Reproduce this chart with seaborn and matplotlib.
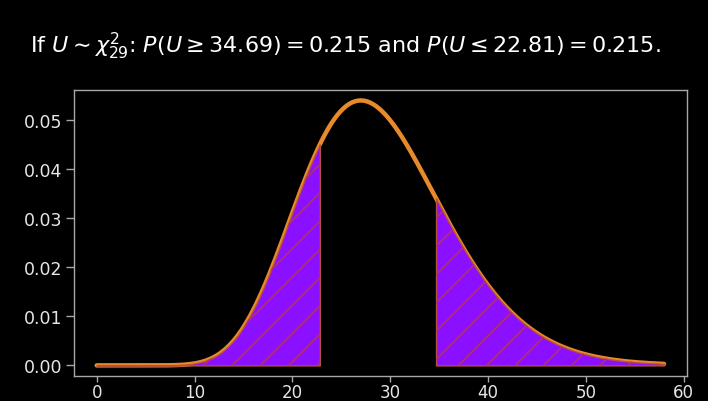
import math
import numpy as np
import pandas as pd
import seaborn as sns
import matplotlib
matplotlib.use("Agg")
import matplotlib.pyplot as plt
from matplotlib.collections import LineCollection
from matplotlib.transforms import IdentityTransform

# Distribution and the two tail cut-offs
dof = 29
upper_cut = 34.69
lower_cut = 22.81
tail_prob = 0.215
x_range = [0, 58]
x_ticks = [0, 10, 20, 30, 40, 50, 60]
y_ticks = [0.00, 0.01, 0.02, 0.03, 0.04, 0.05]


def chisq_pdf(x, k):
    x = np.asarray(x, dtype=float)
    out = np.zeros_like(x)
    pos = x > 0
    logc = -(k / 2) * math.log(2) - math.lgamma(k / 2)
    out[pos] = np.exp(logc + (k / 2 - 1) * np.log(x[pos]) - x[pos] / 2)
    return out


xs = np.linspace(x_range[0], x_range[1], 600)
curve = pd.DataFrame({"u": xs, "density": chisq_pdf(xs, dof)})

sns.set_style("dark")
plt.rcParams["mathtext.fontset"] = "dejavusans"
plt.rcParams["font.family"] = ["DejaVu Sans"]

BG = "black"
LINE = "#E8892B"
FILL = "#8A10FF"
EDGE = "#B4523A"
HATCH = "#B02E72"
FG = "#E6E6E6"
SPINE = "#A8A8A8"

fig = plt.figure(figsize=(7.08, 4.02), dpi=100, facecolor=BG)
ax = fig.add_axes([0.1045, 0.0622, 0.8655, 0.7118])
ax.set_facecolor(BG)

sns.lineplot(data=curve, x="u", y="density", ax=ax, color=LINE, lw=3.2,
             solid_capstyle="round", zorder=2)

ymax = curve["density"].max()
span_x = x_range[1] - x_range[0]
ax.set_xlim(x_range[0] - 0.04 * span_x, x_range[1] + 0.04 * span_x)
ax.set_ylim(-0.04 * ymax, ymax * 1.04)

lower = curve[curve["u"] <= lower_cut]
upper = curve[curve["u"] >= upper_cut]
lx = np.append(lower["u"].to_numpy(), lower_cut)
ly = np.append(lower["density"].to_numpy(), chisq_pdf([lower_cut], dof)[0])
ux = np.insert(upper["u"].to_numpy(), 0, upper_cut)
uy = np.insert(upper["density"].to_numpy(), 0, chisq_pdf([upper_cut], dof)[0])

fills = []
for fx, fy in [(lx, ly), (ux, uy)]:
    poly = ax.fill_between(fx, 0, fy, facecolor=FILL, edgecolor=EDGE,
                           lw=1.0, zorder=3)
    fills.append(poly)

# Sparse 45-degree shading lines, clipped to each tail region
fig.canvas.draw()
bb = ax.get_window_extent()
spacing = 28.3
segs = []
c0 = bb.x0 - bb.height - 400
c = c0 + 13
while c < bb.x1 + 10:
    segs.append([(c, bb.y0), (c + bb.height, bb.y1)])
    c += spacing
for poly in fills:
    lc = LineCollection(segs, colors=HATCH, linewidths=1.3,
                        transform=IdentityTransform(), zorder=4)
    ax.add_collection(lc, autolim=False)
    lc.set_clip_path(poly.get_paths()[0], poly.get_transform())

ax.set_xticks(x_ticks)
ax.set_yticks(y_ticks)
ax.set_yticklabels([f"{v:.2f}" for v in y_ticks])
ax.set_xlabel("")
ax.set_ylabel("")
ax.grid(False)
ax.tick_params(colors=SPINE, labelcolor=FG, labelsize=12.5, direction="out",
               length=5.5, width=1, left=True, bottom=True)
ax.tick_params(axis="x", length=4.5, pad=0.5, labelsize=12)
ax.tick_params(axis="y", pad=3)
for s in ax.spines.values():
    s.set_visible(True)
    s.set_color(SPINE)
    s.set_linewidth(1)

fig.text(0.042, 0.885,
         r"If $U \sim \chi^2_{29}$: $P(U \geq 34.69) = 0.215$ and "
         r"$P(U \leq 22.81) = 0.215$.",
         color="white", fontsize=16, ha="left", va="center")

fig.savefig("out.png", dpi=100, facecolor=BG)
